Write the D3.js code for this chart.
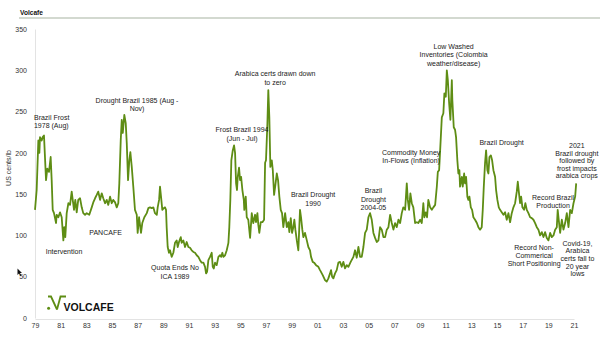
<!DOCTYPE html>
<html><head><meta charset="utf-8">
<script src="https://cdn.jsdelivr.net/npm/d3@7"></script>
<style>
html,body{margin:0;padding:0;background:#fff;}
svg{display:block;font-family:"Liberation Sans",Arial,sans-serif;}
</style></head>
<body><svg id="c" width="600" height="338"></svg>
<script>
const title = "Volcafe";
const yLabel = "US cents/lb";
const yTicks = [0, 50, 100, 150, 200, 250, 300, 350];
const xTickYears = [1979,1981,1983,1985,1987,1989,1991,1993,1995,1997,1999,2001,2003,2005,2007,2009,2011,2013,2015,2017,2019,2021];
const xTickLabels = ["79","81","83","85","87","89","91","93","95","97","99","01","03","05","07","09","11","13","15","17","19","21"];

const years = [
1979.00,1979.13,1979.26,1979.34,1979.39,1979.52,1979.60,1979.70,1979.86,1979.96,1980.09,1980.22,1980.30,1980.38,1980.48,1980.64,1980.69,1980.82,1980.95,1981.08,1981.21,1981.28,1981.36,1981.47,1981.60,1981.73,1981.86,1981.94,1982.04,1982.14,1982.25,1982.37,1982.51,1982.64,1982.76,1982.90,1983.03,1983.23,1983.42,1983.54,1983.68,1983.81,1983.93,1984.07,1984.20,1984.32,1984.46,1984.59,1984.71,1984.85,1984.98,1985.10,1985.24,1985.37,1985.49,1985.57,1985.68,1985.76,1985.84,1985.96,1986.07,1986.15,1986.25,1986.35,1986.43,1986.54,1986.66,1986.79,1986.93,
1987.00,1987.11,1987.26,1987.36,1987.52,1987.71,1987.83,1987.96,1988.10,1988.22,1988.35,1988.49,1988.56,1988.67,1988.74,1988.82,1988.92,1989.03,1989.13,1989.21,1989.26,1989.34,1989.44,1989.52,1989.65,1989.78,1989.91,1990.04,1990.12,1990.22,1990.36,1990.43,1990.56,1990.69,1990.82,1990.95,1991.08,1991.21,1991.34,1991.47,1991.60,1991.73,1991.86,1991.99,1992.12,1992.25,1992.33,1992.41,1992.51,1992.64,1992.77,1992.85,1992.93,1993.03,1993.16,1993.29,1993.42,1993.50,1993.60,1993.68,1993.81,1993.94,1994.07,1994.14,1994.22,1994.30,1994.41,1994.51,1994.59,1994.67,1994.74,1994.80,1994.90,1994.98,1995.06,1995.16,1995.27,1995.31,
1995.42,1995.50,1995.62,1995.76,1995.89,1996.01,1996.15,1996.22,1996.33,1996.40,1996.48,1996.59,1996.72,1996.85,1996.93,1997.00,1997.11,1997.18,1997.26,1997.34,1997.45,1997.53,1997.63,1997.73,1997.84,1997.94,1998.04,1998.15,1998.25,1998.35,1998.49,1998.62,1998.74,1998.82,1998.93,1999.03,1999.13,1999.21,1999.29,1999.40,1999.52,1999.65,1999.73,1999.83,1999.91,2000.04,2000.18,2000.30,2000.43,2000.51,2000.64,2000.75,2000.90,2001.08,2001.21,2001.42,2001.60,2001.73,2001.86,2001.99,2002.07,2002.15,2002.25,2002.38,2002.51,2002.64,2002.77,2002.90,2003.03,2003.16,2003.29,2003.42,2003.60,
2003.81,2003.94,2004.07,2004.20,2004.33,2004.46,2004.59,2004.72,2004.85,2004.98,2005.11,2005.24,2005.37,2005.50,2005.63,2005.76,2005.89,2006.02,2006.15,2006.28,2006.41,2006.54,2006.67,2006.80,2006.93,2007.06,2007.19,2007.32,2007.45,2007.58,2007.70,2007.84,2007.97,2008.05,2008.15,2008.25,2008.36,2008.48,2008.62,2008.75,2008.87,2009.01,2009.14,2009.26,2009.34,2009.45,2009.55,2009.65,2009.79,2009.92,2010.04,2010.18,2010.31,2010.39,2010.49,2010.57,2010.70,2010.82,2010.90,2011.01,2011.09,2011.17,2011.27,2011.37,2011.48,2011.52,2011.63,2011.73,2011.81,2011.91,2011.99,
2012.07,2012.12,2012.26,2012.33,2012.44,2012.51,2012.59,2012.69,2012.77,2012.85,2012.96,2013.06,2013.16,2013.29,2013.43,2013.55,2013.68,2013.81,2013.89,2013.97,2014.07,2014.15,2014.25,2014.33,2014.41,2014.52,2014.62,2014.72,2014.85,2014.93,2015.03,2015.14,2015.24,2015.37,2015.50,2015.63,2015.76,2015.89,2016.02,2016.15,2016.28,2016.41,2016.54,2016.62,2016.70,2016.80,2016.88,2016.98,2017.11,2017.21,2017.32,2017.45,2017.58,2017.71,2017.84,2017.97,2018.10,2018.23,2018.36,2018.49,2018.62,2018.75,2018.88,2019.01,2019.14,2019.27,2019.40,2019.53,2019.66,2019.73,2019.81,2019.92,2020.05,2020.18,2020.31,2020.44,2020.57,2020.70,2020.83,2020.96,2021.09,2021.17
];
const prices = [
131,155,215,200,219,215,219,221,167,181,177,195,167,131,127,115,125,122,128,122,94,110,98,127,139,137,153,143,131,143,128,143,145,134,127,125,127,125,134,140,145,149,153,143,151,145,139,143,137,147,139,143,140,134,139,163,215,240,224,246,236,212,167,191,201,183,159,131,125,
103,122,103,115,122,127,133,134,133,134,127,125,134,143,159,147,131,133,134,131,110,86,79,82,74,79,91,94,86,92,98,91,94,86,92,86,85,82,80,79,76,74,70,67,67,62,54,56,70,74,79,62,60,67,64,74,76,74,79,74,76,82,91,110,143,191,203,209,200,163,155,171,182,167,171,155,143,131,
147,122,119,97,127,115,125,116,127,113,103,116,116,119,188,191,236,276,243,183,191,179,149,161,175,167,147,131,127,110,127,110,116,104,121,103,110,119,107,94,82,131,122,107,98,103,94,86,82,74,68,67,64,62,58,52,46,44,48,54,58,50,48,54,58,67,68,62,68,60,64,62,68,
74,82,73,86,74,74,86,103,107,122,127,119,103,97,92,94,110,107,98,98,107,110,125,115,107,115,110,119,115,127,134,131,163,143,131,151,139,134,115,116,115,119,115,139,122,128,122,143,134,131,134,137,159,177,179,203,243,248,272,268,300,288,260,240,288,264,231,228,219,191,175,
179,159,171,159,175,163,171,147,143,147,134,131,122,119,115,110,107,110,131,159,188,203,179,175,195,197,191,179,171,155,143,134,131,128,125,128,119,127,116,127,134,139,153,165,153,139,147,134,131,139,131,127,122,121,119,115,110,107,100,104,98,104,97,94,103,98,100,107,110,131,119,103,119,107,115,127,110,131,127,139,147,163
];

// annotation texts, anchored in data coordinates (year, price of first line)
const annotations = [
  {lines:["Brazil Frost","1978 (Aug)"], year:1978.92, value:243, anchor:"start"},
  {lines:["Drought Brazil 1985 (Aug -","Nov)"], year:1986.95, value:264},
  {lines:["Intervention"], year:1981.26, value:80},
  {lines:["PANCAFE"], year:1984.50, value:103},
  {lines:["Quota Ends No","ICA 1989"], year:1989.91, value:61},
  {lines:["Frost Brazil 1994","(Jun - Jul)"], year:1995.13, value:228},
  {lines:["Arabica certs drawn down","to zero"], year:1997.71, value:296},
  {lines:["Brazil Drought","1990"], year:2000.67, value:149},
  {lines:["Brazil","Drought","2004-05"], year:2005.37, value:154},
  {lines:["Commodity Money","In-Flows (Inflation)"], year:2008.31, value:201},
  {lines:["Low Washed","Inventories (Colombia","weather/disease)"], year:2011.62, value:329},
  {lines:["Brazil Drought"], year:2015.36, value:212},
  {lines:["2021","Brazil drought","followed by","frost impacts","arabica crops"], year:2021.22, value:209, tight:true},
  {lines:["Record Brazil","Production"], year:2019.37, value:146, tight:true},
  {lines:["Record Non-","Commerical","Short Positioning"], year:2017.89, value:85, tight:true},
  {lines:["Covid-19,","Arabica","certs fall to","20 year","lows"], year:2021.27, value:90.5, tight:true}
];

const svg = d3.select("#c");
const x = d3.scaleLinear().domain([1979, 2021]).range([35, 574]);
const y = d3.scaleLinear().domain([0, 350]).range([318, 29]);

// title
svg.append("text").attr("x", 20).attr("y", 14.5).attr("font-size", 6.6).attr("font-weight", "bold").attr("fill", "#111").text(title);
svg.append("line").attr("x1", 19).attr("x2", 600).attr("y1", 18).attr("y2", 18).attr("stroke", "#c4cdc0").attr("stroke-width", 1.4);

// y axis
const yAxis = d3.axisLeft(y).tickValues(yTicks).tickSize(0).tickPadding(8);
const gy = svg.append("g").attr("transform", "translate(35,0)").call(yAxis);
gy.select(".domain").attr("stroke", "#e3e3e3").attr("stroke-width", 1);
gy.selectAll("text").attr("font-size", 7).attr("fill", "#333").attr("font-family", "Liberation Sans, Arial, sans-serif");

// x axis
const xAxis = d3.axisBottom(x).tickValues(xTickYears).tickFormat((d, i) => xTickLabels[i]).tickSize(0).tickPadding(4.5);
const gx = svg.append("g").attr("transform", "translate(0,319)").call(xAxis);
gx.select(".domain").attr("stroke", "#e3e3e3").attr("stroke-width", 1.2);
gx.selectAll("text").attr("font-size", 7).attr("fill", "#333").attr("font-family", "Liberation Sans, Arial, sans-serif");

// y label
svg.append("text").attr("transform", "translate(10.5,168) rotate(-90)").attr("text-anchor", "middle")
  .attr("font-size", 7).attr("fill", "#333").text(yLabel);

// line
const data = years.map((yr, i) => ({yr, v: prices[i]}));
svg.append("path").datum(data)
  .attr("fill", "none").attr("stroke", "#5e8d14").attr("stroke-width", 1.8).attr("stroke-linejoin", "round")
  .attr("d", d3.line().x(d => x(d.yr)).y(d => y(d.v)));

// annotations
annotations.forEach(a => {
  const lh = a.tight ? 7.6 : 8.5;
  const t = svg.append("text").attr("font-size", 7).attr("fill", "#1a1a1a")
    .attr("text-anchor", a.anchor || "middle");
  a.lines.forEach((ln, i) => {
    t.append("tspan").attr("x", x(a.year)).attr("y", y(a.value) + 2.5 + i * lh).text(ln);
  });
});

// logo
const logo = svg.append("g");
logo.append("circle").attr("cx", 48.6).attr("cy", 308.3).attr("r", 1.5).attr("fill", "#5e8d14");
logo.append("path").attr("d", "M48,296.5 L51,296.5 L57,309.5").attr("fill", "none").attr("stroke", "#5e8d14").attr("stroke-width", 1.8);
logo.append("path").attr("d", "M57,309.5 L60.5,296.5 L66,296.5").attr("fill", "none").attr("stroke", "#5e8d14").attr("stroke-width", 1.8);
logo.append("text").attr("x", 63.5).attr("y", 310.5).attr("font-size", 10.5).attr("font-weight", "bold").attr("fill", "#111").text("VOLCAFE");

// cursor artifact
svg.append("path").attr("d", "M17.5,268.5 L17.5,275 L19,273.5 L20.5,276 L21.3,275.5 L20,273 L22,273 Z").attr("fill", "#111");
</script></body></html>
